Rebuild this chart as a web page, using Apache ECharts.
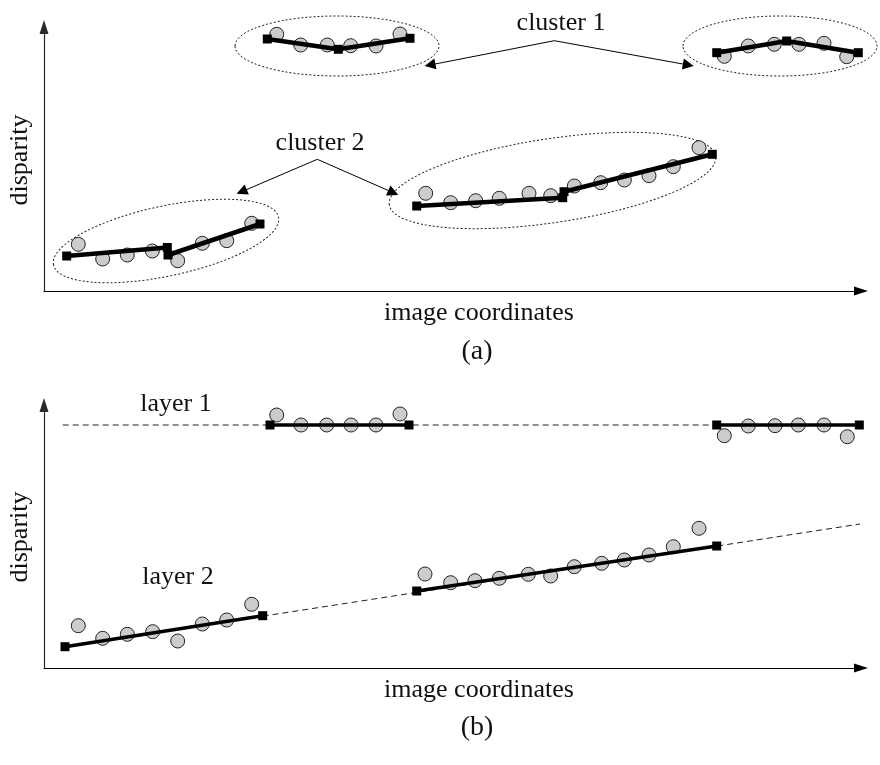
<!DOCTYPE html>
<html>
<head>
<meta charset="utf-8">
<script src="https://cdn.jsdelivr.net/npm/echarts@6/dist/echarts.min.js"></script>
<style>
  html, body { margin: 0; padding: 0; background: #ffffff; }
  #chart { width: 880px; height: 765px; }
</style>
</head>
<body>
<div id="chart"></div>
<script>
// ---------- (a) piecewise fits per cluster ----------
// measurements: [image coordinate, disparity]
const aCluster1LeftPts = [[232.7, 256.7], [256.7, 246], [283.3, 246], [306.7, 245.3], [332, 245], [356, 257]];
const aCluster1LeftFit = [[223.3, 252], [294.3, 241.7], [366, 252.7]];
const aCluster1RightPts = [[680.3, 234.7], [704.3, 245], [730.3, 246.7], [755, 246.7], [780, 247.7], [802.7, 234.3]];
const aCluster1RightFit = [[672.7, 238.3], [742.7, 250], [814.3, 238.3]];
const aCluster2LeftPts = [[34.3, 46.7], [58.7, 32], [83.3, 36], [108.3, 40], [133.7, 30.3], [158.3, 47.7], [182.7, 50.3], [207.7, 67.7]];
const aCluster2LeftFitA = [[22.7, 35], [123.3, 43.5]];
const aCluster2LeftFitB = [[124, 36], [216, 67]];
const aCluster2RightPts = [[381.7, 97.7], [406.7, 88.3], [431.7, 90.3], [455.3, 92.7], [485, 97.7], [506.7, 95.3], [530.3, 105], [556.7, 108.3], [580.3, 111], [605, 115.3], [629.3, 124.3], [655, 143.3]];
const aCluster2RightFitA = [[372.7, 85], [518.7, 93.3]];
const aCluster2RightFitB = [[520, 99.3], [668.3, 136.7]];

// cluster outlines: [centre x, centre y, semi-axis along, semi-axis across, tilt in degrees]
const aClusterOutlines = [
  [293, 245, 102, 30, 0],
  [736, 245, 97, 30, 0],
  [122, 50, 115, 35, 12],
  [508.5, 110.5, 165, 42, 8.5]
];
// callouts: apex under the label, then pointer targets
const aCluster1Apex = [510.3, 250.3];
const aCluster1Targets = [[386, 226], [644.3, 226]];
const aCluster2Apex = [273.3, 131.7];
const aCluster2Targets = [[197.7, 99.3], [349.3, 98.3]];

// ---------- (b) layers ----------
const bLayer1Extent = [[18.7, 243], [815.3, 243]];
const bLayer1LeftPts = [[232.7, 253], [257, 243], [282.7, 243], [307, 243], [332, 243], [356, 254]];
const bLayer1LeftFit = [[226, 243], [365, 243]];
const bLayer1RightPts = [[680.3, 232.3], [704.3, 242], [731, 242.3], [754.3, 243], [780, 243], [803.3, 231.3]];
const bLayer1RightFit = [[672.7, 243], [815.3, 243]];
const bLayer2Extent = [[21, 21.3], [816, 144]];
const bLayer2LeftPts = [[34.3, 42.3], [58.7, 29.7], [83.3, 33.7], [108.7, 36.3], [133.7, 27], [158.3, 44], [182.7, 48], [207.7, 63.7]];
const bLayer2LeftFit = [[21, 21.3], [218.7, 52.3]];
const bLayer2RightPts = [[381, 94], [406.7, 85.3], [431, 87.3], [455.3, 89.7], [484.3, 93.7], [506.7, 92], [530.3, 101.3], [557.7, 104.7], [580.3, 108], [605, 113], [629.3, 121.3], [655, 139.7]];
const bLayer2RightFit = [[372.7, 77], [672.7, 122]];

const SERIF = '"Liberation Serif", "DejaVu Serif", serif';
const INK = '#111111';

function axisX(grid) {
  return {
    gridIndex: grid, type: 'value', min: 0, max: 817,
    axisLine: { show: true, symbol: ['none', 'triangle'], symbolSize: [9, 14],
      lineStyle: { color: '#000000', width: 1.2 } },
    axisTick: { show: false }, axisLabel: { show: false }, splitLine: { show: false }
  };
}
function axisY(grid, max) {
  return {
    gridIndex: grid, type: 'value', min: 0, max: max,
    axisLine: { show: true, symbol: ['none', 'triangle'], symbolSize: [9, 14],
      lineStyle: { color: '#2a2a2a', width: 1.2 } },
    axisTick: { show: false }, axisLabel: { show: false }, splitLine: { show: false }
  };
}
function points(grid, data) {
  return {
    type: 'scatter', xAxisIndex: grid, yAxisIndex: grid, data: data,
    symbol: 'circle', symbolSize: 14, z: 3, clip: false, silent: true,
    itemStyle: { color: '#cccccc', borderColor: '#222222', borderWidth: 1, opacity: 1 }
  };
}
function fit(grid, data, width) {
  return {
    type: 'line', xAxisIndex: grid, yAxisIndex: grid, data: data,
    symbol: 'rect', symbolSize: 9, showSymbol: true, z: 5, clip: false, silent: true,
    lineStyle: { color: '#000000', width: width },
    itemStyle: { color: '#000000', borderWidth: 0 }
  };
}
function dashed(grid, data) {
  return {
    type: 'line', xAxisIndex: grid, yAxisIndex: grid, data: data,
    symbol: 'none', z: 2, clip: false, silent: true,
    lineStyle: { color: '#222222', width: 1, type: [6, 4] }
  };
}
function pointers(grid, apex, targets) {
  return {
    type: 'lines', coordinateSystem: 'cartesian2d', xAxisIndex: grid, yAxisIndex: grid,
    symbol: ['none', 'triangle'], symbolSize: 11, z: 4, silent: true,
    lineStyle: { color: '#000000', width: 1, opacity: 1, curveness: 0 },
    data: targets.map(t => ({ coords: [apex, t] }))
  };
}

const chart = echarts.init(document.getElementById('chart'), null, { renderer: 'canvas' });

chart.setOption({
  animation: false,
  backgroundColor: '#ffffff',
  grid: [
    { left: 44, right: 19, top: 27, bottom: 474 },
    { left: 44, right: 19, top: 405, bottom: 97 }
  ],
  xAxis: [axisX(0), axisX(1)],
  yAxis: [axisY(0, 264), axisY(1, 263)],
  series: [
    {
      type: 'custom', xAxisIndex: 0, yAxisIndex: 0, data: aClusterOutlines,
      clip: false, silent: true, z: 1,
      encode: { x: 0, y: 1 },
      renderItem: function (params, api) {
        const c = api.coord([api.value(0), api.value(1)]);
        const s = api.size([api.value(2), api.value(3)]);
        return {
          type: 'ellipse',
          x: c[0], y: c[1],
          rotation: api.value(4) * Math.PI / 180,
          shape: { cx: 0, cy: 0, rx: s[0], ry: s[1] },
          style: { fill: 'none', stroke: '#222222', lineWidth: 1, lineDash: [2, 2] }
        };
      }
    },
    points(0, aCluster1LeftPts), fit(0, aCluster1LeftFit, 4.5),
    points(0, aCluster1RightPts), fit(0, aCluster1RightFit, 4.5),
    points(0, aCluster2LeftPts), fit(0, aCluster2LeftFitA, 4.5), fit(0, aCluster2LeftFitB, 4.5),
    points(0, aCluster2RightPts), fit(0, aCluster2RightFitA, 4.5), fit(0, aCluster2RightFitB, 4.5),
    pointers(0, aCluster1Apex, aCluster1Targets),
    pointers(0, aCluster2Apex, aCluster2Targets),

    dashed(1, bLayer1Extent), dashed(1, bLayer2Extent),
    points(1, bLayer1LeftPts), fit(1, bLayer1LeftFit, 3.5),
    points(1, bLayer1RightPts), fit(1, bLayer1RightFit, 3.5),
    points(1, bLayer2LeftPts), fit(1, bLayer2LeftFit, 3.5),
    points(1, bLayer2RightPts), fit(1, bLayer2RightFit, 3.5)
  ],
  graphic: [
    { type: 'text', x: 20, y: 160, rotation: Math.PI / 2,
      style: { text: 'disparity', font: '26px ' + SERIF, fill: INK, align: 'center', verticalAlign: 'middle' } },
    { type: 'text', x: 479, y: 313,
      style: { text: 'image coordinates', font: '26px ' + SERIF, fill: INK, align: 'center', verticalAlign: 'middle' } },
    { type: 'text', x: 477, y: 352,
      style: { text: '(a)', font: '28px ' + SERIF, fill: INK, align: 'center', verticalAlign: 'middle' } },
    { type: 'text', x: 561, y: 23,
      style: { text: 'cluster 1', font: '26px ' + SERIF, fill: INK, align: 'center', verticalAlign: 'middle' } },
    { type: 'text', x: 320, y: 143,
      style: { text: 'cluster 2', font: '26px ' + SERIF, fill: INK, align: 'center', verticalAlign: 'middle' } },

    { type: 'text', x: 20, y: 537, rotation: Math.PI / 2,
      style: { text: 'disparity', font: '26px ' + SERIF, fill: INK, align: 'center', verticalAlign: 'middle' } },
    { type: 'text', x: 479, y: 690,
      style: { text: 'image coordinates', font: '26px ' + SERIF, fill: INK, align: 'center', verticalAlign: 'middle' } },
    { type: 'text', x: 477, y: 728,
      style: { text: '(b)', font: '28px ' + SERIF, fill: INK, align: 'center', verticalAlign: 'middle' } },
    { type: 'text', x: 176, y: 404,
      style: { text: 'layer 1', font: '26px ' + SERIF, fill: INK, align: 'center', verticalAlign: 'middle' } },
    { type: 'text', x: 178, y: 577,
      style: { text: 'layer 2', font: '26px ' + SERIF, fill: INK, align: 'center', verticalAlign: 'middle' } }
  ]
});
</script>
</body>
</html>
